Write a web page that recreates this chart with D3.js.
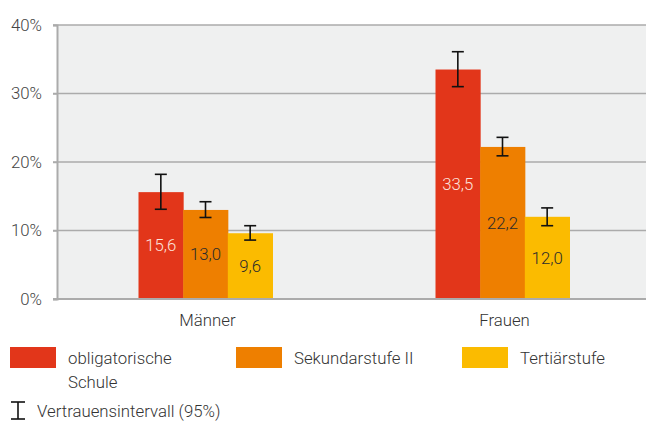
<!DOCTYPE html>
<html><head><meta charset="utf-8">
<script src="https://cdn.jsdelivr.net/npm/d3@7"></script>
<style>
html,body{margin:0;padding:0;background:#fff;}
svg{display:block;font-family:Roboto,"Noto Sans",sans-serif;}
</style></head>
<body>
<svg id="c" width="646" height="421"></svg>
<script>
const categories = ["Männer", "Frauen"];
const seriesNames = ["obligatorische Schule", "Sekundarstufe II", "Tertiärstufe"];
const seriesColors = ["#e2361a", "#ee7f00", "#fbbb00"];
const labelColors = ["#fde3dc", "#2b2b2b", "#2b2b2b"];
const values = [[15.6, 13.0, 9.6], [33.5, 22.2, 12.0]];
const ciLow = [[13.1, 11.9, 8.6], [31.0, 20.9, 10.7]];
const ciHigh = [[18.2, 14.2, 10.7], [36.1, 23.6, 13.3]];
const yTicks = [0, 10, 20, 30, 40];
const ciLegend = "Vertrauensintervall (95%)";

const FS = 16.8;
const svg = d3.select("#c");
const L = 57, R = 651, T = 25, B = 299;
const x = d3.scaleBand().domain(categories).range([L, R]);
const xs = d3.scaleBand().domain(d3.range(3)).range([0, 134]);
const y = d3.scaleLinear().domain([0, 40]).range([B, T]);

svg.append("rect").attr("x", L).attr("y", T).attr("width", R - L).attr("height", B - T).attr("fill", "#eff0f0");

// grid
svg.append("g").selectAll("line").data(yTicks.filter(d => d > 0)).join("line")
  .attr("x1", L - 4).attr("x2", R).attr("y1", d => y(d)).attr("y2", d => y(d))
  .attr("stroke", "#ababab").attr("stroke-width", 1.5);

// y axis
const ya = svg.append("g").attr("transform", `translate(${L},0)`)
  .call(d3.axisLeft(y).tickValues(yTicks).tickFormat(d => d + "%").tickSize(4).tickPadding(11));
ya.select(".domain").attr("stroke", "#ababab").attr("stroke-width", 2);
ya.selectAll(".tick line").attr("stroke", "#ababab").attr("stroke-width", 1.5);
ya.selectAll("text").attr("font-size", FS).attr("font-weight", 300).attr("fill", "#444").attr("font-family", "Roboto");

// bars
const gOff = (x.bandwidth() - 134) / 2;
const groups = svg.append("g").selectAll("g").data(categories).join("g")
  .attr("transform", d => `translate(${x(d) + gOff},0)`);
groups.each(function(cat, ci) {
  const g = d3.select(this);
  values[ci].forEach((v, si) => {
    g.append("rect").attr("x", xs(si)).attr("width", xs.bandwidth() + 0.5)
      .attr("y", y(v)).attr("height", y(0) - y(v)).attr("fill", seriesColors[si]);
  });
  values[ci].forEach((v, si) => {
    const cx = xs(si) + xs.bandwidth() / 2;
    g.append("text").attr("x", cx).attr("y", (y(v) + y(0)) / 2).attr("dy", "0.35em")
      .attr("text-anchor", "middle").attr("font-size", FS).attr("font-weight", 300)
      .attr("fill", labelColors[si]).text(d3.format(".1f")(v).replace(".", ","));
    const e = g.append("g").attr("stroke", "#111").attr("stroke-width", 1.6);
    e.append("line").attr("x1", cx).attr("x2", cx).attr("y1", y(ciHigh[ci][si])).attr("y2", y(ciLow[ci][si]));
    e.append("line").attr("x1", cx - 6).attr("x2", cx + 6).attr("y1", y(ciHigh[ci][si])).attr("y2", y(ciHigh[ci][si]));
    e.append("line").attr("x1", cx - 6).attr("x2", cx + 6).attr("y1", y(ciLow[ci][si])).attr("y2", y(ciLow[ci][si]));
  });
});

// x axis
svg.append("line").attr("x1", L - 4).attr("x2", R).attr("y1", B).attr("y2", B)
  .attr("stroke", "#ababab").attr("stroke-width", 2);
svg.append("g").selectAll("text").data(categories).join("text")
  .attr("x", d => x(d) + x.bandwidth() / 2 + 2).attr("y", 326).attr("text-anchor", "middle")
  .attr("font-size", FS).attr("font-weight", 300).attr("fill", "#333").text(d => d);

// legend
const legX = [10, 236, 462];
const leg = svg.append("g");
seriesNames.forEach((n, i) => {
  leg.append("rect").attr("x", legX[i]).attr("y", 347).attr("width", 46).attr("height", 21).attr("fill", seriesColors[i]);
  const t = leg.append("text").attr("x", legX[i] + 58).attr("y", 364).attr("font-size", FS)
    .attr("font-weight", 300).attr("fill", "#333");
  const words = i === 0 ? ["obligatorische", "Schule"] : [n];
  words.forEach((w, k) => t.append("tspan").attr("x", legX[i] + 58).attr("dy", k === 0 ? 0 : 23.5).text(w));
});
const ic = leg.append("g").attr("stroke", "#111").attr("stroke-width", 1.6);
ic.append("line").attr("x1", 18).attr("x2", 18).attr("y1", 402).attr("y2", 419);
ic.append("line").attr("x1", 11).attr("x2", 25).attr("y1", 402).attr("y2", 402);
ic.append("line").attr("x1", 11).attr("x2", 25).attr("y1", 419).attr("y2", 419);
leg.append("text").attr("x", 37).attr("y", 416.5).attr("font-size", FS).attr("font-weight", 300)
  .attr("fill", "#333").text(ciLegend);
</script>
</body></html>
